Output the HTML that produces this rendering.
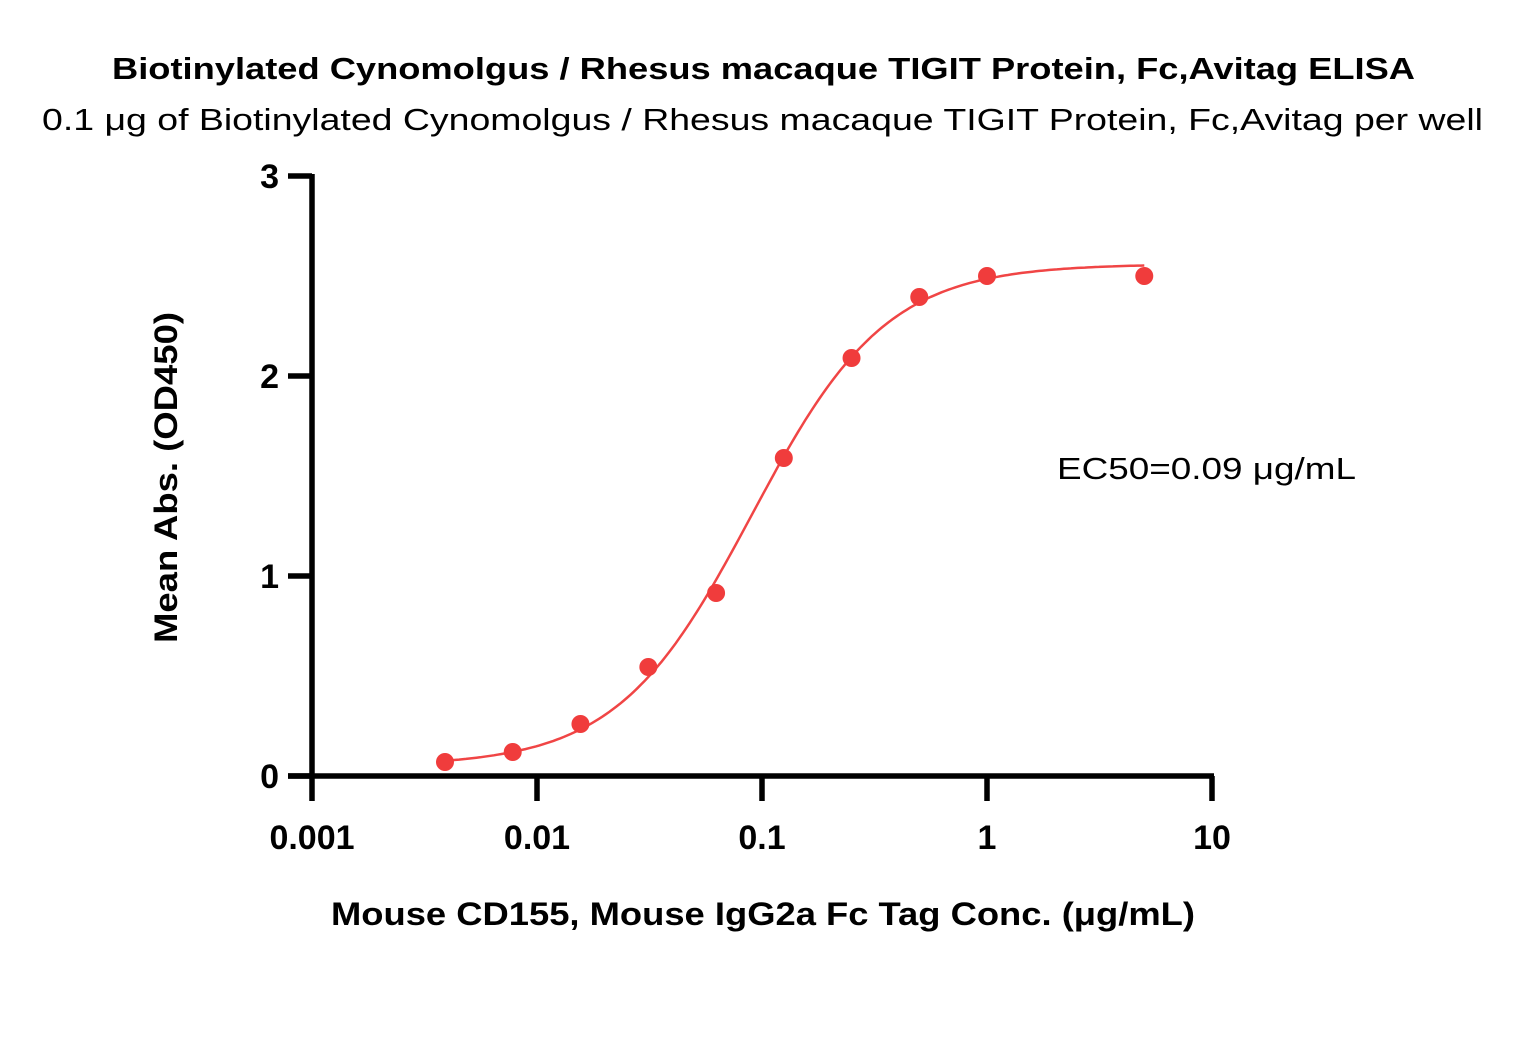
<!DOCTYPE html>
<html><head><meta charset="utf-8"><style>
body{margin:0;background:#fff;}
svg text{font-family:"Liberation Sans",sans-serif;}
</style></head><body>
<svg width="1527" height="1032" viewBox="0 0 1527 1032">
<text x="112" y="79" font-size="31" font-weight="bold" textLength="1303" lengthAdjust="spacingAndGlyphs">Biotinylated Cynomolgus / Rhesus macaque TIGIT Protein, Fc,Avitag ELISA</text>
<text x="42" y="130" font-size="31" textLength="1441" lengthAdjust="spacingAndGlyphs">0.1 μg of Biotinylated Cynomolgus / Rhesus macaque TIGIT Protein, Fc,Avitag per well</text>
<g id="axes"></g>
<g id="marks"></g>
<text x="1057" y="479" font-size="31" textLength="299" lengthAdjust="spacingAndGlyphs">EC50=0.09 μg/mL</text>
<text x="331" y="925" font-size="32" font-weight="bold" textLength="864" lengthAdjust="spacingAndGlyphs">Mouse CD155, Mouse IgG2a Fc Tag Conc. (μg/mL)</text>
<text transform="translate(177,643) rotate(-90)" font-size="32" font-weight="bold" textLength="331" lengthAdjust="spacingAndGlyphs">Mean Abs. (OD450)</text>
</svg>
<script>
const concs=[0.0039,0.0078,0.0156,0.03125,0.0625,0.125,0.25,0.5,1,5];
const absValues=[0.07,0.12,0.26,0.545,0.915,1.59,2.09,2.395,2.5,2.5];
const xTicks=[0.001,0.01,0.1,1,10];
const xTickLabels=["0.001","0.01","0.1","1","10"];
const yTicks=[0,1,2,3];
const fitBottom=0.05, fitTop=2.56, fitEC50=0.09, fitHill=1.45;
const NS="http://www.w3.org/2000/svg";
const X=v=>312+(Math.log10(v)+3)*225;
const Y=v=>776-v*200;
function mk(t,a,p){const e=document.createElementNS(NS,t);for(const k in a)e.setAttribute(k,a[k]);p.appendChild(e);return e;}
const ax=document.getElementById('axes'),mg=document.getElementById('marks');
const yl=mk('line',{x1:312,y1:Y(3)-2,x2:312,y2:778,stroke:'#000','stroke-width':5.5},ax);


const xl=mk('line',{x1:288,y1:776,x2:1214,y2:776,stroke:'#000','stroke-width':5.5},ax);


yTicks.forEach(v=>{
 const t=mk('line',{x1:288,y1:Y(v),x2:312,y2:Y(v),stroke:'#000','stroke-width':5.5},ax);
 
 
 const l=mk('text',{x:279,y:Y(v)+12,'text-anchor':'end','font-size':34,'font-weight':'bold'},ax);
 l.textContent=v;
 
 
});
xTicks.forEach((v,i)=>{
 const t=mk('line',{x1:X(v),y1:776,x2:X(v),y2:801,stroke:'#000','stroke-width':5.5},ax);
 
 
 const l=mk('text',{x:X(v),y:849,'text-anchor':'middle','font-size':34,'font-weight':'bold'},ax);
 l.textContent=xTickLabels[i];
 
 
});
let d='';
const lo=Math.log10(concs[0]),hi=Math.log10(concs[concs.length-1]);
for(let i=0;i<=200;i++){const lx=lo+(hi-lo)*i/200,c=Math.pow(10,lx);
 const y=fitBottom+(fitTop-fitBottom)/(1+Math.pow(fitEC50/c,fitHill));
 d+=(i?'L':'M')+X(c).toFixed(1)+' '+Y(y).toFixed(1);}
const cv=mk('path',{d:d,fill:'none',stroke:'#f04545','stroke-width':2.5},mg);


concs.forEach((c,i)=>{
 const p=mk('circle',{cx:X(c),cy:Y(absValues[i]),r:9,fill:'#f03c3c'},mg);
 
 
});
</script>
</body></html>
